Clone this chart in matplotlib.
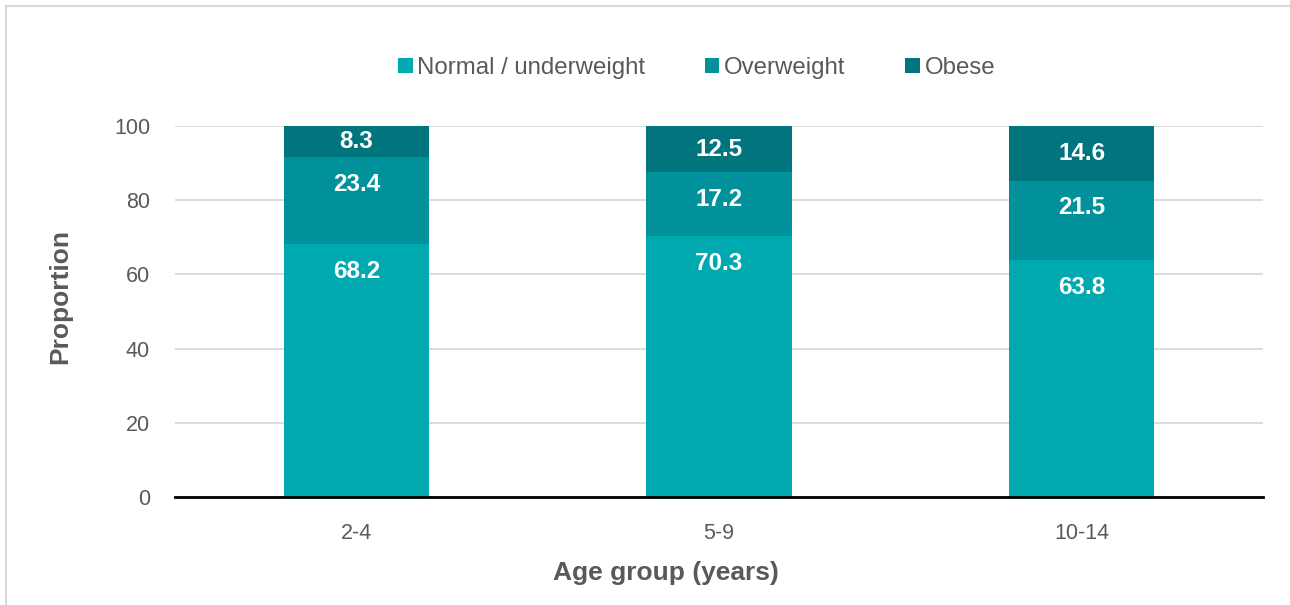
import matplotlib
matplotlib.use("Agg")
import matplotlib.pyplot as plt
from matplotlib.lines import Line2D
import numpy as np

categories = ["2-4", "5-9", "10-14"]
series_names = ["Normal / underweight", "Overweight", "Obese"]
normal = [68.2, 70.3, 63.8]
overweight = [23.4, 17.2, 21.5]
obese = [8.3, 12.5, 14.6]
colors = ["#00A9B0", "#00919A", "#00757D"]
yticks = [0, 20, 40, 60, 80, 100]

plt.rcParams['font.family'] = ['Liberation Sans', 'DejaVu Sans']

fig = plt.figure(figsize=(12.9, 6.05), dpi=100)
ax = fig.add_axes([175/1290, 1-497/605, (1263-175)/1290, (497-126)/605])

x = np.arange(len(categories))
bottom = np.zeros(len(categories))
for vals, name, col in zip([normal, overweight, obese], series_names, colors):
    vals = np.array(vals)
    ax.bar(x, vals, 0.4, bottom=bottom, color=col, label=name, zorder=2)
    for xi, b, v in zip(x, bottom, vals):
        top = b + v
        off = min(7.3, v / 2)
        ax.text(xi, top - off, f"{v:.1f}", ha="center", va="center",
                color="white", fontsize=17.5, fontweight="bold", zorder=3)
    bottom = bottom + vals

ax.set_xlim(-0.5, 2.5)
ax.set_ylim(0, 100)
ax.set_yticks(yticks)
ax.set_xticks(x)
ax.set_xticklabels(categories)
ax.grid(axis="y", color="#D9D9D9", linewidth=1.3, zorder=0)
ax.set_axisbelow(True)
for s in ["top", "right", "left"]:
    ax.spines[s].set_visible(False)
ax.spines["bottom"].set_color("black")
ax.spines["bottom"].set_linewidth(2)
ax.spines["bottom"].set_zorder(4)
ax.tick_params(axis="both", length=0, labelsize=15.5, labelcolor="#595959")
ax.tick_params(axis="y", pad=18)
ax.tick_params(axis="x", pad=19)

fig.text(60/1290, 1-296/605, "Proportion", rotation=90, ha="center", va="center",
         fontsize=19, fontweight="bold", color="#595959")
fig.text(666/1290, 1-573/605, "Age group (years)", ha="center", va="center",
         fontsize=19, fontweight="bold", color="#595959")

leg = fig.legend(loc="center", bbox_to_anchor=(0.540, 1-68/605), ncol=3, frameon=False,
                 fontsize=17.3, handlelength=0.6, handleheight=0.6, handletextpad=0.2,
                 columnspacing=2.48)
for t in leg.get_texts():
    t.set_color("#595959")

fig.add_artist(Line2D([5.5/1290, 5.5/1290], [0, 1 - 5.5/605], transform=fig.transFigure,
                      color="#D9D9D9", linewidth=1.5))
fig.add_artist(Line2D([5.5/1290, 1], [1 - 5.5/605, 1 - 5.5/605], transform=fig.transFigure,
                      color="#D9D9D9", linewidth=1.5))

fig.savefig("out.png", dpi=100)
